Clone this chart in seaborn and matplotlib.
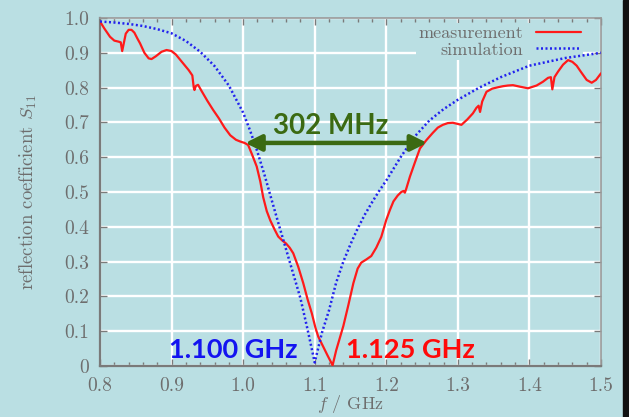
import matplotlib
matplotlib.use("Agg")
import matplotlib.pyplot as plt
import seaborn as sns
import pandas as pd
from matplotlib.ticker import MultipleLocator, FixedLocator, FixedFormatter
from matplotlib.patches import Rectangle

# simulated reflection coefficient |S11| vs frequency (GHz)
sim_f = [0.80, 0.82, 0.84, 0.86, 0.88, 0.90, 0.92, 0.94, 0.96, 0.98, 1.00,
         1.01, 1.02, 1.03, 1.04, 1.05, 1.06, 1.07, 1.08, 1.09, 1.10, 1.11,
         1.12, 1.13, 1.14, 1.15, 1.16, 1.17, 1.18, 1.19, 1.20, 1.22, 1.24,
         1.26, 1.28, 1.30, 1.33, 1.36, 1.40, 1.45, 1.50]
sim_s11 = [0.990, 0.987, 0.983, 0.977, 0.968, 0.956, 0.934, 0.903, 0.862,
           0.806, 0.728, 0.675, 0.615, 0.548, 0.476, 0.405, 0.335, 0.265,
           0.195, 0.105, 0.010, 0.095, 0.160, 0.240, 0.300, 0.350, 0.395,
           0.435, 0.470, 0.503, 0.533, 0.600, 0.660, 0.705, 0.738, 0.765,
           0.800, 0.830, 0.863, 0.885, 0.900]

# measured reflection coefficient |S11| vs frequency (GHz)
meas_f = [0.800, 0.806, 0.814, 0.820, 0.826, 0.829, 0.831, 0.833, 0.836,
          0.840, 0.844, 0.848, 0.852, 0.856, 0.862, 0.868, 0.872, 0.878,
          0.886, 0.893, 0.900, 0.906, 0.912, 0.918, 0.924, 0.929, 0.931,
          0.932, 0.934, 0.937, 0.942, 0.950, 0.958, 0.966, 0.974, 0.982,
          0.990, 0.996, 1.002, 1.007, 1.012, 1.019, 1.024, 1.028, 1.033,
          1.038, 1.044, 1.049, 1.055, 1.060, 1.065, 1.070, 1.077, 1.084,
          1.090, 1.096, 1.101, 1.105, 1.112, 1.118, 1.125, 1.130, 1.135,
          1.140, 1.147, 1.154, 1.160, 1.165, 1.172, 1.179, 1.186, 1.193,
          1.200, 1.205, 1.210, 1.216, 1.221, 1.224, 1.226, 1.228, 1.233,
          1.240, 1.247, 1.256, 1.265, 1.272, 1.279, 1.286, 1.293, 1.299,
          1.305, 1.313, 1.321, 1.326, 1.329, 1.331, 1.334, 1.340, 1.348,
          1.356, 1.363, 1.370, 1.377, 1.386, 1.398, 1.410, 1.419, 1.426,
          1.430, 1.432, 1.435, 1.440, 1.447, 1.454, 1.460, 1.466, 1.472,
          1.480, 1.487, 1.493, 1.500]
meas_s11 = [0.990, 0.970, 0.946, 0.935, 0.932, 0.930, 0.905, 0.925, 0.955,
            0.966, 0.966, 0.958, 0.942, 0.927, 0.900, 0.884, 0.882, 0.890,
            0.903, 0.908, 0.905, 0.895, 0.880, 0.865, 0.850, 0.835, 0.800,
            0.793, 0.805, 0.808, 0.790, 0.762, 0.736, 0.712, 0.685, 0.663,
            0.650, 0.645, 0.641, 0.635, 0.610, 0.573, 0.530, 0.485, 0.445,
            0.418, 0.392, 0.372, 0.360, 0.352, 0.340, 0.324, 0.285, 0.238,
            0.192, 0.151, 0.110, 0.084, 0.055, 0.030, 0.002, 0.045, 0.080,
            0.115, 0.175, 0.238, 0.280, 0.297, 0.306, 0.316, 0.340, 0.371,
            0.420, 0.448, 0.473, 0.490, 0.500, 0.503, 0.498, 0.510, 0.544,
            0.585, 0.625, 0.649, 0.670, 0.685, 0.693, 0.698, 0.699, 0.696,
            0.693, 0.708, 0.726, 0.742, 0.748, 0.730, 0.760, 0.788, 0.797,
            0.801, 0.804, 0.806, 0.807, 0.803, 0.798, 0.806, 0.817, 0.828,
            0.830, 0.795, 0.830, 0.846, 0.866, 0.879, 0.874, 0.863, 0.845,
            0.822, 0.814, 0.822, 0.841]

x_ticks = [0.8, 0.9, 1.0, 1.1, 1.2, 1.3, 1.4, 1.5]
x_labels = ["0.8", "0.9", "1.0", "1.1", "1.2", "1.3", "1.4", "1.5"]
y_ticks = [0.0, 0.1, 0.2, 0.3, 0.4, 0.5, 0.6, 0.7, 0.8, 0.9, 1.0]
y_labels = ["0", "0.1", "0.2", "0.3", "0.4", "0.5", "0.6", "0.7", "0.8",
            "0.9", "1.0"]

# bandwidth marker and resonance annotations
bw_lo, bw_hi, bw_level = 1.003, 1.257, 0.641
bw_text = "302 MHz"
sim_res_text = "1.100 GHz"
meas_res_text = "1.125 GHz"

BG = "#badfe3"
GRAY = "#6e6e6e"

sns.set_style("ticks")
plt.rcParams["font.family"] = ["cmr10", "DejaVu Serif"]
plt.rcParams["mathtext.fontset"] = "cm"
plt.rcParams["axes.formatter.use_mathtext"] = True

fig = plt.figure(figsize=(6.29, 4.17), dpi=100, facecolor=BG)
ax = fig.add_axes([100 / 629, 1 - 366 / 417, 501 / 629, 348 / 417])
ax.set_facecolor(BG)

meas_df = pd.DataFrame({"f": meas_f, "s11": meas_s11})
sim_df = pd.DataFrame({"f": sim_f, "s11": sim_s11})

sns.lineplot(data=meas_df, x="f", y="s11", ax=ax, color="#ff1a1a", lw=1.6,
             estimator=None, sort=False, label="measurement", zorder=3)
sns.lineplot(data=sim_df, x="f", y="s11", ax=ax, color="#2222ee", lw=1.8,
             estimator=None, sort=False, label="simulation",
             linestyle=(0, (0.8, 1.0)), zorder=3)

ax.set_xlim(0.8, 1.5)
ax.set_ylim(0.0, 1.0)
ax.xaxis.set_major_locator(FixedLocator(x_ticks))
ax.xaxis.set_major_formatter(FixedFormatter(x_labels))
ax.xaxis.set_minor_locator(MultipleLocator(0.02))
ax.yaxis.set_major_locator(FixedLocator(y_ticks))
ax.yaxis.set_major_formatter(FixedFormatter(y_labels))

ax.set_axisbelow(True)
ax.grid(True, which="major", color="white", lw=1.7)

ax.tick_params(which="both", direction="in", top=True, right=True,
               color="#7a7a7a", labelcolor=GRAY, labelsize=14, pad=8)
ax.tick_params(which="major", length=5, width=1.0)
ax.tick_params(which="minor", length=3, width=1.0)
ax.tick_params(axis="y", which="minor", left=False, right=False)

for side in ["left", "bottom"]:
    ax.spines[side].set_color("#7a7a7a")
    ax.spines[side].set_linewidth(1.6)
for side in ["top", "right"]:
    ax.spines[side].set_visible(True)
    ax.spines[side].set_color("#9a9a9a")
    ax.spines[side].set_linewidth(1.2)

ax.set_xlabel(r"$f$ / GHz", color=GRAY, fontsize=13)
ax.xaxis.set_label_coords(0.5, -0.077)
ax.set_ylabel(r"reflection coefficient $S_{11}$", color=GRAY, fontsize=13.5)
ax.yaxis.set_label_coords(-0.122, 0.5)

leg = ax.legend(loc="upper right", bbox_to_anchor=(0.965, 0.986),
                markerfirst=False, frameon=True, facecolor=BG,
                edgecolor="none", framealpha=1, fontsize=13,
                handlelength=2.5, labelspacing=0.04, borderpad=0.15,
                borderaxespad=0.0, handletextpad=0.7)
leg.set_zorder(2)
for t in leg.get_texts():
    t.set_color(GRAY)

GREEN = "#3b6a12"
ax.annotate("", xy=(bw_lo, bw_level), xytext=(bw_hi, bw_level),
            arrowprops=dict(arrowstyle="<|-|>", color=GREEN, lw=3.2,
                            mutation_scale=24, shrinkA=0, shrinkB=0),
            zorder=4)
ax.text((bw_lo + bw_hi) / 2 - 0.007, 0.690, bw_text, color=GREEN,
        fontsize=20, fontweight="bold", family=["Lato", "DejaVu Sans"],
        ha="center", va="center", zorder=4)
ax.text(0.9858, 0.047, sim_res_text, color="#1414f0", fontsize=19.5,
        fontweight="bold", family=["Lato", "DejaVu Sans"],
        ha="center", va="center", zorder=4)
ax.text(1.2338, 0.046, meas_res_text, color="#ff0a0a", fontsize=19.5,
        fontweight="bold", family=["Lato", "DejaVu Sans"],
        ha="center", va="center", zorder=4)

# dark strip along the right edge of the figure
fig.patches.append(Rectangle((623 / 629, 0), 6 / 629, 1,
                             transform=fig.transFigure, color="#111111",
                             zorder=10))

fig.savefig("out.png", dpi=100, facecolor=BG)
